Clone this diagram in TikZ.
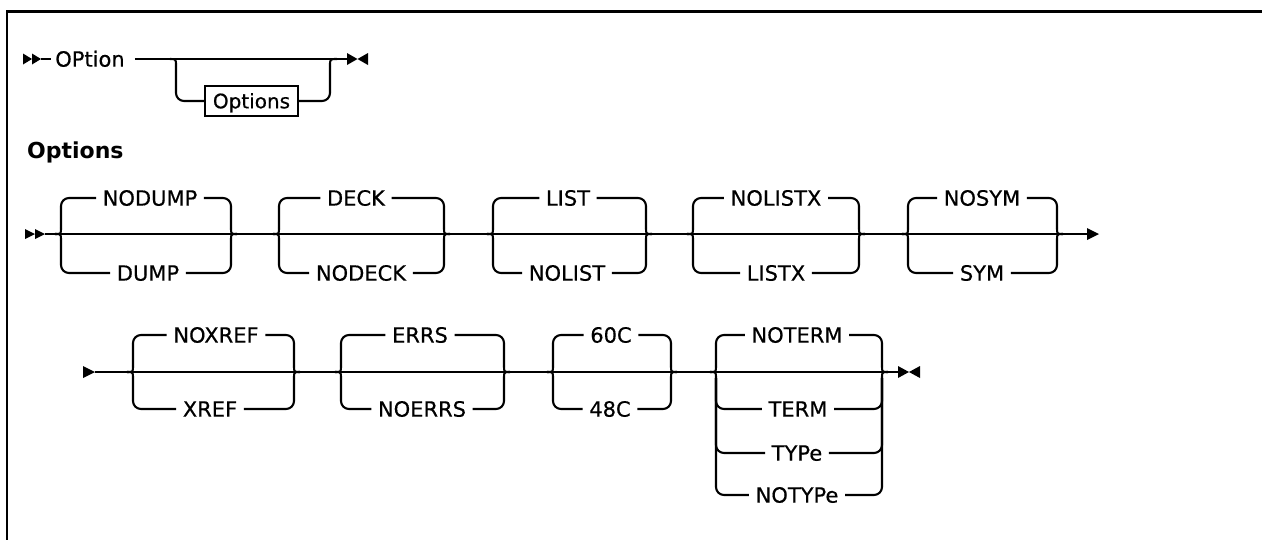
\documentclass[tikz,border=0pt]{standalone}
\usepackage{fontspec}
\setmainfont{DejaVu Sans}
\newfontfamily\lblfont{DejaVu Sans}[FakeBold=0.5]
\tikzset{
 rr/.style={line width=2.1pt},
 lbl/.style={font=\lblfont\fontsize{21}{24}\selectfont, inner xsep=6.5pt, inner ysep=0pt, text height=15.3pt, text depth=0pt},
 hd/.style={font=\bfseries\fontsize{22}{25}\selectfont, inner sep=0pt, anchor=west},
 boxn/.style={draw, line width=2.1pt, font=\lblfont\fontsize{20}{24}\selectfont, inner sep=0pt, text height=14.6pt, text depth=0pt, minimum width=93pt, minimum height=30pt},
 tri/.style={fill=black, draw=none}
}
% group forks: #1 id, #2 xL, #3 xR, #4 ym
\newcommand\sdgroup[4]{%
 \coordinate (#1L) at (#2,#4);
 \coordinate (#1R) at (#3,#4);
 \draw[rr] (#1L) .. controls (#2+6,#4) .. (#2+6,#4-6);
 \draw[rr] (#1L) .. controls (#2+6,#4) .. (#2+6,#4+6);
 \draw[rr] (#1R) .. controls (#3-6,#4) .. (#3-6,#4-6);
 \draw[rr] (#1R) .. controls (#3-6,#4) .. (#3-6,#4+6);
}
% branch: #1 name, #2 xL, #3 xR, #4 ym, #5 sign, #6 yb, #7 xc, #8 text
\newcommand\sdbranch[8]{%
 \node[lbl] (#1) at (#7,#6) {#8};
 \draw[rr, rounded corners=8pt] (#2+6,#4#56) -- (#2+6,#6) -- (#1.west);
 \draw[rr, rounded corners=8pt] (#1.east) -- (#3-6,#6) -- (#3-6,#4#56);
}
\begin{document}
\begin{tikzpicture}[x=1pt,y=-1pt]
\useasboundingbox (0,0) rectangle (1262,539);
% frame
\draw[line width=2.6pt, line join=miter] (7,545) -- (7,11.5) -- (1270,11.5);

% ---------- row 0 ----------
\coordinate (r0s) at (41,59);
\fill[tri] (23,53.5) -- (32,59) -- (23,64.5) -- cycle;
\fill[tri] (32,53.5) -- (41,59) -- (32,64.5) -- cycle;
\node[lbl, inner xsep=4pt] (opt) at (90,59) {OPtion};
\coordinate (r0L) at (170,59);
\coordinate (r0R) at (337,59);
\coordinate (r0e) at (347,59);
\draw[rr] (r0s) -- (opt.west);
\draw[rr] ([xshift=6pt]opt.east) -- (r0L) -- (r0R) -- (r0e);
\node[boxn] (obox) at (251.5,101) {Options};
\draw[rr] (r0L) .. controls (176,59) .. (176,66);
\draw[rr, rounded corners=8pt] (176,66) -- (176,101) -- (obox.west);
\draw[rr, rounded corners=8pt] (obox.east) -- (330,101) -- (330,66);
\draw[rr] (330,66) .. controls (330,59) .. (r0R);
\fill[tri] (347,53) -- (357.5,59) -- (347,65) -- cycle;
\fill[tri] (368,53) -- (357.5,59) -- (368,65) -- cycle;

% heading
\node[hd] (head) at (27,152) {Options};

% ---------- row 1 ----------
\coordinate (r1s) at (45,234);
\fill[tri] (25,229) -- (35,234) -- (25,239) -- cycle;
\fill[tri] (35,229) -- (45,234) -- (35,239) -- cycle;
\sdgroup{ga}{55}{237}{234}
\sdbranch{nodump}{55}{237}{234}{-}{198}{150}{NODUMP}
\sdbranch{dump}{55}{237}{234}{+}{273}{148}{DUMP}
\sdgroup{gb}{273}{450}{234}
\sdbranch{deck}{273}{450}{234}{-}{198}{356}{DECK}
\sdbranch{nodeck}{273}{450}{234}{+}{273}{361}{NODECK}
\sdgroup{gc}{487}{652}{234}
\sdbranch{list}{487}{652}{234}{-}{198}{568}{LIST}
\sdbranch{nolist}{487}{652}{234}{+}{273}{567}{NOLIST}
\sdgroup{gd}{687}{865}{234}
\sdbranch{nolistx}{687}{865}{234}{-}{198}{776}{NOLISTX}
\sdbranch{listx}{687}{865}{234}{+}{273}{776}{LISTX}
\sdgroup{ge}{902}{1063}{234}
\sdbranch{nosym}{902}{1063}{234}{-}{198}{982}{NOSYM}
\sdbranch{sym}{902}{1063}{234}{+}{273}{982}{SYM}
\coordinate (r1e) at (1087,234);
\draw[rr] (r1s) -- (gaL) -- (gaR) -- (gbL) -- (gbR) -- (gcL) -- (gcR) -- (gdL) -- (gdR) -- (geL) -- (geR) -- (r1e);
\fill[tri] (1087,228) -- (1099,234) -- (1087,240) -- cycle;

% ---------- row 2 ----------
\fill[tri] (83,366) -- (95,372) -- (83,378) -- cycle;
\coordinate (r2s) at (95,372);
\sdgroup{gf}{127}{300}{372}
\sdbranch{noxref}{127}{300}{372}{-}{335}{216}{NOXREF}
\sdbranch{xref}{127}{300}{372}{+}{409}{210}{XREF}
\sdgroup{gg}{335}{510}{372}
\sdbranch{errs}{335}{510}{372}{-}{335}{420}{ERRS}
\sdbranch{noerrs}{335}{510}{372}{+}{409}{422}{NOERRS}
\sdgroup{gh}{547}{677}{372}
\sdbranch{sixty}{547}{677}{372}{-}{335}{611}{60C}
\sdbranch{fortyeight}{547}{677}{372}{+}{409}{610}{48C}
\sdgroup{gi}{710}{888}{372}
\sdbranch{noterm}{710}{888}{372}{-}{335}{797}{NOTERM}
\sdbranch{term}{710}{888}{372}{+}{409}{798}{TERM}
\sdbranch{type}{710}{888}{372}{+}{453}{797}{TYPe}
\sdbranch{notype}{710}{888}{372}{+}{495}{797}{NOTYPe}
\coordinate (r2e) at (898,372);
\draw[rr] (r2s) -- (gfL) -- (gfR) -- (ggL) -- (ggR) -- (ghL) -- (ghR) -- (giL) -- (giR) -- (r2e);
\fill[tri] (898,366) -- (909,372) -- (898,378) -- cycle;
\fill[tri] (920,366) -- (909,372) -- (920,378) -- cycle;
\end{tikzpicture}
\end{document}
